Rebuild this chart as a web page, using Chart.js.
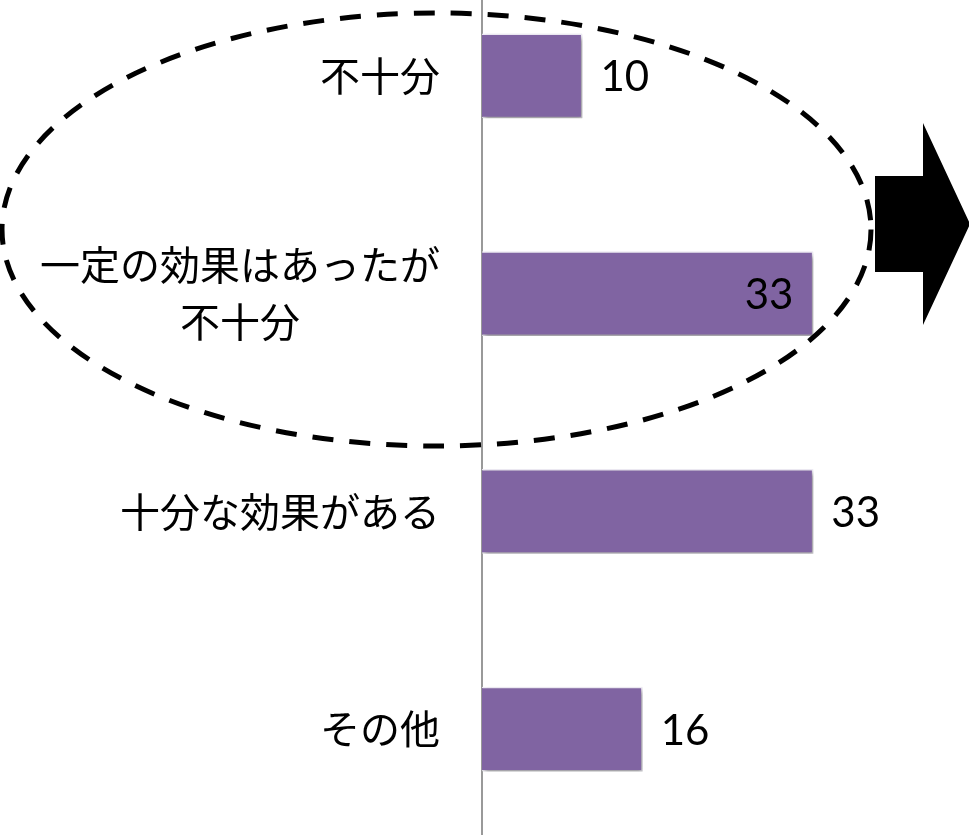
<!DOCTYPE html>
<html>
<head>
<meta charset="utf-8">
<script src="https://cdn.jsdelivr.net/npm/chart.js@4"></script>
<style>
  html, body { margin: 0; padding: 0; background: #fff; overflow: hidden; }
  #wrap { position: absolute; left: 0; top: -33px; width: 969px; height: 871px; }
</style>
</head>
<body>
<div id="wrap"><canvas id="effectChart"></canvas></div>
<script>
// カテゴリと値
const categories = ['不十分', ['一定の効果はあったが', '不十分'], '十分な効果がある', 'その他'];
const values = [10, 33, 33, 16];

const barColor = '#8064A2';
const jpFont = '"Noto Sans CJK JP", "Noto Sans", sans-serif';
const numFont = 'Lato, "Open Sans", sans-serif';

// 棒の影
const shadowPlugin = {
  id: 'barShadow',
  beforeDatasetsDraw(chart) {
    const ctx = chart.ctx;
    ctx.save();
    ctx.shadowColor = 'rgba(0, 0, 0, 0.4)';
    ctx.shadowBlur = 5;
    ctx.shadowOffsetX = 2;
    ctx.shadowOffsetY = 3;
  },
  afterDatasetsDraw(chart) {
    chart.ctx.restore();
  }
};

// 軸ラベルと値ラベル
const labelPlugin = {
  id: 'labels',
  afterDatasetsDraw(chart, args, opts) {
    const ctx = chart.ctx;
    const yScale = chart.scales.y;
    ctx.save();
    ctx.fillStyle = '#000';
    ctx.textBaseline = 'middle';

    // カテゴリラベル (中央揃えの複数行)
    ctx.font = '40px ' + jpFont;
    const right = yScale.right - 42;
    categories.forEach((lab, i) => {
      const lines = Array.isArray(lab) ? lab : [lab];
      const widths = lines.map(l => ctx.measureText(l).width);
      const maxW = Math.max(...widths);
      const cx = right - maxW / 2;
      const yc = yScale.getPixelForValue(i);
      const lh = 57;
      lines.forEach((l, k) => {
        ctx.textAlign = 'center';
        ctx.fillText(l, cx, yc + (k - (lines.length - 1) / 2) * lh);
      });
    });

    // 値ラベル
    ctx.font = '42px ' + numFont;
    const meta = chart.getDatasetMeta(0);
    meta.data.forEach((bar, i) => {
      const inside = opts.insideIndex.includes(i);
      ctx.textAlign = inside ? 'right' : 'left';
      const x = inside ? bar.x - 20 : bar.x + 18;
      ctx.fillText(String(values[i]), x, bar.y + 2);
    });
    ctx.restore();
  }
};

// 破線の楕円と矢印
const overlayPlugin = {
  id: 'overlay',
  afterDraw(chart) {
    const ctx = chart.ctx;
    const off = 33;
    ctx.save();
    ctx.strokeStyle = '#000';
    ctx.lineWidth = 5;
    ctx.setLineDash([21, 16]);
    ctx.beginPath();
    ctx.ellipse(436.5, 229.5 + off, 434.5, 216.5, 0, 0, Math.PI * 2);
    ctx.stroke();

    ctx.setLineDash([]);
    ctx.fillStyle = '#000';
    ctx.beginPath();
    ctx.moveTo(875, 176 + off);
    ctx.lineTo(923, 176 + off);
    ctx.lineTo(923, 123 + off);
    ctx.lineTo(970, 224 + off);
    ctx.lineTo(923, 325 + off);
    ctx.lineTo(923, 272 + off);
    ctx.lineTo(875, 272 + off);
    ctx.closePath();
    ctx.fill();
    ctx.restore();
  }
};

const ctx = document.getElementById('effectChart');
new Chart(ctx.getContext('2d'), {
  type: 'bar',
  data: {
    labels: categories,
    datasets: [{
      data: values,
      backgroundColor: barColor,
      borderColor: 'rgba(240, 236, 246, 0.9)',
      borderWidth: 1.5,
      categoryPercentage: 1,
      barPercentage: 0.39
    }]
  },
  options: {
    indexAxis: 'y',
    responsive: true,
    maintainAspectRatio: false,
    animation: false,
    layout: { padding: 0 },
    scales: {
      x: {
        display: false,
        min: 0,
        max: 48.5
      },
      y: {
        display: true,
        grid: { display: false },
        border: { display: true, color: '#999999', width: 2 },
        ticks: { display: false },
        afterFit(scale) { scale.width = 482; }
      }
    },
    plugins: {
      legend: { display: false },
      tooltip: { enabled: false },
      labels: { insideIndex: [1] }
    }
  },
  plugins: [shadowPlugin, labelPlugin, overlayPlugin]
});
</script>
</body>
</html>
